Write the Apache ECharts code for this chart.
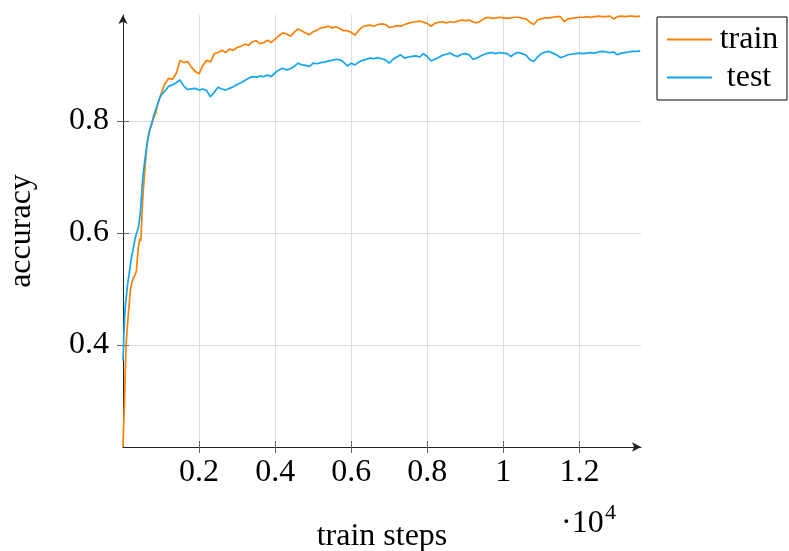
<!DOCTYPE html>
<html>
<head>
<meta charset="utf-8">
<script src="https://cdn.jsdelivr.net/npm/echarts@6/dist/echarts.min.js"></script>
<style>
  html, body { margin: 0; padding: 0; background: #fff; }
  #chart { width: 789px; height: 551px; }
</style>
</head>
<body>
<div id="chart"></div>
<script>
// Training steps at which accuracy was logged
const steps = [
  0, 20, 40, 60, 80, 100, 120, 140, 160, 180, 200, 230, 260, 290, 320, 350,
  380, 410, 440, 470, 500, 530, 560, 590, 620, 650, 680, 710, 740, 770, 800,
  850, 900, 950, 1000,
  1100, 1200, 1300, 1400, 1500, 1600, 1700, 1800, 1900, 2000,
  2100, 2200, 2300, 2400, 2500, 2600, 2700, 2800, 2900, 3000,
  3100, 3200, 3300, 3400, 3500, 3600, 3700, 3800, 3900, 4000,
  4100, 4200, 4300, 4400, 4500, 4600, 4700, 4800, 4900, 5000,
  5100, 5200, 5300, 5400, 5500, 5600, 5700, 5800, 5900, 6000,
  6100, 6200, 6300, 6400, 6500, 6600, 6700, 6800, 6900, 7000,
  7100, 7200, 7300, 7400, 7500, 7600, 7700, 7800, 7900, 8000,
  8100, 8200, 8300, 8400, 8500, 8600, 8700, 8800, 8900, 9000,
  9100, 9200, 9300, 9400, 9500, 9600, 9700, 9800, 9900, 10000,
  10100, 10200, 10300, 10400, 10500, 10600, 10700, 10800, 10900, 11000,
  11100, 11200, 11300, 11400, 11500, 11600, 11700, 11800, 11900, 12000,
  12100, 12200, 12300, 12400, 12500, 12600, 12700, 12800, 12900, 13000,
  13100, 13200, 13300, 13400, 13500, 13600
];

// Accuracy on the training set
const trainAcc = [
  0.218, 0.262, 0.300, 0.352, 0.398, 0.420, 0.438, 0.455, 0.470, 0.488, 0.500,
  0.511, 0.517, 0.522, 0.526, 0.531, 0.556, 0.578, 0.590, 0.586, 0.636,
  0.672, 0.700, 0.724, 0.750, 0.768, 0.776, 0.786, 0.790, 0.797, 0.804,
  0.812, 0.826, 0.838, 0.848,
  0.866, 0.876, 0.874, 0.885, 0.908, 0.904, 0.906, 0.896, 0.888, 0.884,
  0.899, 0.908, 0.905, 0.920, 0.922, 0.926, 0.922, 0.928, 0.926, 0.931,
  0.933, 0.937, 0.935, 0.941, 0.943, 0.938, 0.940, 0.944, 0.940, 0.946,
  0.952, 0.957, 0.955, 0.951, 0.958, 0.964, 0.961, 0.957, 0.954, 0.959,
  0.962, 0.966, 0.967, 0.969, 0.966, 0.968, 0.965, 0.961, 0.961, 0.958,
  0.953, 0.962, 0.968, 0.970, 0.971, 0.969, 0.972, 0.973, 0.972, 0.967,
  0.968, 0.970, 0.969, 0.972, 0.974, 0.976, 0.977, 0.978, 0.976, 0.974,
  0.969, 0.974, 0.976, 0.977, 0.975, 0.977, 0.976, 0.978, 0.980, 0.979,
  0.980, 0.977, 0.975, 0.978, 0.983, 0.985, 0.983, 0.984, 0.985, 0.984,
  0.983, 0.984, 0.985, 0.985, 0.983, 0.982, 0.976, 0.972, 0.980, 0.982,
  0.984, 0.984, 0.985, 0.986, 0.986, 0.977, 0.982, 0.983, 0.984, 0.985,
  0.985, 0.986, 0.985, 0.986, 0.987, 0.986, 0.986, 0.987, 0.982, 0.986,
  0.987, 0.986, 0.987, 0.987, 0.986, 0.987
];

// Accuracy on the held-out test set
const testAcc = [
  0.372, 0.412, 0.445, 0.470, 0.482, 0.495, 0.508, 0.517, 0.526, 0.536, 0.546,
  0.558, 0.569, 0.580, 0.590, 0.598, 0.604, 0.612, 0.627, 0.648, 0.680,
  0.705, 0.722, 0.738, 0.752, 0.766, 0.778, 0.786, 0.792, 0.800, 0.808,
  0.818, 0.828, 0.838, 0.846,
  0.853, 0.862, 0.864, 0.868, 0.873, 0.862, 0.856, 0.857, 0.858, 0.855,
  0.857, 0.854, 0.843, 0.851, 0.860, 0.857, 0.855, 0.858, 0.861, 0.865,
  0.868, 0.872, 0.876, 0.879, 0.878, 0.880, 0.879, 0.882, 0.879, 0.886,
  0.891, 0.894, 0.891, 0.893, 0.897, 0.903, 0.900, 0.899, 0.897, 0.903,
  0.902, 0.904, 0.905, 0.907, 0.908, 0.910, 0.909, 0.905, 0.898, 0.903,
  0.900, 0.905, 0.908, 0.910, 0.912, 0.911, 0.913, 0.911, 0.909, 0.903,
  0.910, 0.914, 0.918, 0.912, 0.914, 0.915, 0.916, 0.914, 0.920, 0.915,
  0.907, 0.910, 0.913, 0.917, 0.919, 0.921, 0.917, 0.915, 0.919, 0.920,
  0.918, 0.910, 0.912, 0.916, 0.919, 0.921, 0.922, 0.920, 0.922, 0.921,
  0.920, 0.915, 0.920, 0.922, 0.920, 0.917, 0.909, 0.906, 0.914, 0.920,
  0.923, 0.924, 0.921, 0.918, 0.913, 0.915, 0.918, 0.919, 0.920, 0.921,
  0.920, 0.921, 0.922, 0.921, 0.923, 0.924, 0.923, 0.922, 0.923, 0.918,
  0.921, 0.922, 0.923, 0.924, 0.924, 0.925
];

// Axis ticks and their printed labels (x labels are in units of 10^4 steps)
const xTickValues = [2000, 4000, 6000, 8000, 10000, 12000];
const xTickLabels = ['0.2', '0.4', '0.6', '0.8', '1', '1.2'];
const yTickValues = [0.4, 0.6, 0.8];
const yTickLabels = ['0.4', '0.6', '0.8'];

const seriesNames = ['train', 'test'];
const seriesColors = ['#fb8008', '#12a6f2'];

const FONT = '"Liberation Serif", "DejaVu Serif", serif';
const AXIS_COLOR = '#222';
const TICK_COLOR = '#666';
const GRID_COLOR = '#dcdcdc';

const X_MIN = 0, X_MAX = 13620;
const Y_MIN = 0.218, Y_MAX = 0.989;

function pairs(xs, ys) {
  return xs.map((x, i) => [x, ys[i]]);
}

const chart = echarts.init(document.getElementById('chart'), null, { renderer: 'canvas' });

const option = {
  animation: false,
  backgroundColor: '#fff',
  grid: { left: 123, right: 148, top: 15, bottom: 104,
    containLabel: false, outerBoundsMode: 'none' },
  xAxis: [
    {
      type: 'value', min: X_MIN, max: X_MAX, interval: 2000,
      axisLine: { show: true, lineStyle: { color: AXIS_COLOR, width: 1 },
        symbol: ['none', 'arrow'], symbolSize: [7, 9] },
      axisTick: { show: true, inside: false, length: 6, customValues: xTickValues,
        lineStyle: { color: TICK_COLOR } },
      axisLabel: { customValues: xTickValues, margin: 10,
        formatter: v => xTickLabels[xTickValues.indexOf(v)] || '',
        fontFamily: FONT, fontSize: 32, color: '#000' },
      splitLine: { show: true, lineStyle: { color: GRID_COLOR, width: 1 } },
      name: 'train steps', nameLocation: 'middle', nameGap: 74,
      nameTextStyle: { fontFamily: FONT, fontSize: 32, color: '#000' }
    },
    {
      // inner half of the crossing tick marks
      type: 'value', min: X_MIN, max: X_MAX, position: 'bottom',
      axisLine: { show: false },
      axisTick: { show: true, inside: true, length: 6, customValues: xTickValues,
        lineStyle: { color: TICK_COLOR } },
      axisLabel: { show: false },
      splitLine: { show: false }
    }
  ],
  yAxis: [
    {
      type: 'value', min: Y_MIN, max: Y_MAX,
      axisLine: { show: true, lineStyle: { color: AXIS_COLOR, width: 1 },
        symbol: ['none', 'arrow'], symbolSize: [7, 9] },
      axisTick: { show: true, inside: false, length: 6, customValues: yTickValues,
        lineStyle: { color: TICK_COLOR } },
      axisLabel: { customValues: yTickValues, margin: 14,
        formatter: v => yTickLabels[yTickValues.findIndex(t => Math.abs(t - v) < 1e-9)] || '',
        fontFamily: FONT, fontSize: 32, color: '#000' },
      splitLine: { show: true, lineStyle: { color: GRID_COLOR, width: 1 } },
      name: 'accuracy', nameLocation: 'middle', nameGap: 85, nameRotate: 90,
      nameTextStyle: { fontFamily: FONT, fontSize: 32, color: '#000' }
    },
    {
      type: 'value', min: Y_MIN, max: Y_MAX, position: 'left',
      axisLine: { show: false },
      axisTick: { show: true, inside: true, length: 6, customValues: yTickValues,
        lineStyle: { color: TICK_COLOR } },
      axisLabel: { show: false },
      splitLine: { show: false }
    }
  ],
  legend: {
    orient: 'vertical', left: 657, top: 17,
    padding: [5, 6, 5, 10],
    itemGap: 3, itemWidth: 45, itemHeight: 2,
    icon: 'rect',
    backgroundColor: '#fff', borderColor: '#000', borderWidth: 1, borderRadius: 0,
    data: seriesNames,
    formatter: name => '{c|' + name + '}',
    textStyle: {
      fontFamily: FONT, fontSize: 32, color: '#000', lineHeight: 35,
      rich: { c: { width: 64, align: 'center', lineHeight: 35,
        fontFamily: FONT, fontSize: 32, color: '#000' } }
    }
  },
  graphic: [
    { type: 'text', left: 561, top: 508, silent: true,
      style: { text: '\u00b710', fontFamily: FONT, fontSize: 32, fill: '#000' } },
    { type: 'text', left: 605, top: 502, silent: true,
      style: { text: '4', fontFamily: FONT, fontSize: 22, fill: '#000' } }
  ],
  series: [
    {
      name: seriesNames[0], type: 'line', data: pairs(steps, trainAcc),
      showSymbol: false, symbol: 'none', clip: true,
      lineStyle: { color: seriesColors[0], width: 1.7 },
      itemStyle: { color: seriesColors[0] }
    },
    {
      name: seriesNames[1], type: 'line', data: pairs(steps, testAcc),
      showSymbol: false, symbol: 'none', clip: true,
      lineStyle: { color: seriesColors[1], width: 1.7 },
      itemStyle: { color: seriesColors[1] }
    }
  ]
};

chart.setOption(option);
</script>
</body>
</html>
